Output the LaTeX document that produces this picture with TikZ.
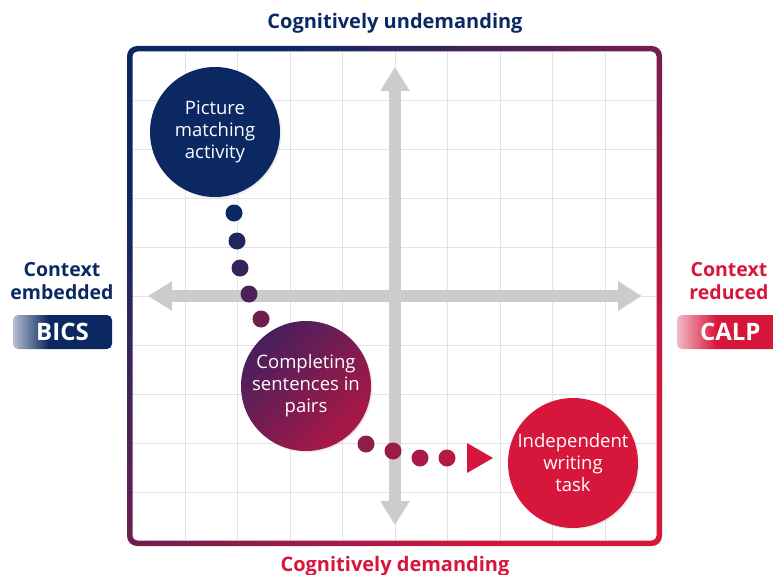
\documentclass[tikz,border=0pt]{standalone}
\usepackage{fontspec}
\setmainfont{Open Sans}
\usetikzlibrary{arrows.meta,shadows}

\definecolor{navyc}{RGB}{11,40,98}
\definecolor{crimc}{RGB}{215,22,60}
\definecolor{purpc}{RGB}{72,31,94}
\definecolor{winec}{RGB}{172,24,68}
\definecolor{gridc}{RGB}{226,226,226}
\definecolor{axisc}{RGB}{204,204,204}

\pgfdeclarehorizontalshading{bicsshade}{100bp}{color(0bp)=(navyc!30); color(25bp)=(navyc!30); color(43bp)=(navyc); color(100bp)=(navyc)}
\pgfdeclarehorizontalshading{calpshade}{100bp}{color(0bp)=(crimc!30); color(25bp)=(crimc!30); color(43bp)=(crimc); color(100bp)=(crimc)}

\tikzset{
  gridline/.style={gridc, line width=0.9pt},
  axisline/.style={axisc, line width=12pt, {Triangle[width=28pt,length=24pt]}-{Triangle[width=28pt,length=24pt]}},
  stage/.style={circle, minimum size=130pt, inner sep=0pt, text=white, align=center,
    font=\fontsize{18.5}{22}\selectfont, drop shadow={opacity=0.15, shadow xshift=1.5pt, shadow yshift=-1.5pt}},
  headlabel/.style={font=\fontsize{20}{22}\selectfont\bfseries},
  sidelabel/.style={align=center, font=\fontsize{19.5}{23}\selectfont\bfseries},
  tag/.style={rounded corners=5pt, minimum height=34pt, text=white, font=\fontsize{24}{26}\selectfont\bfseries}
}

\begin{document}
\begin{tikzpicture}[x=1pt,y=-1pt]
            \useasboundingbox (0,0) rectangle (773,575);
            \clip (0,0) rectangle (773,575);
            % frame
            \shade[top color=navyc, bottom color=crimc, shading angle=45, rounded corners=10pt] (127,46) rectangle (662,546);
            \fill[white, rounded corners=5pt] (132.5,51.5) rectangle (656.5,540.5);
            \foreach \k in {1,...,9} {
              \draw[gridline] ({132.5+52.5*\k},52) -- ({132.5+52.5*\k},540);
              \draw[gridline] (133,{51+49*\k}) -- (656,{51+49*\k});
            }
            % axes
            \draw[axisline] (148,296) -- (642,296);
            \draw[axisline] (395,67) -- (395,525);
            % dots
            \foreach \px/\py/\pc in {234/213/100, 237/241/90, 240/268/80, 249/294/68, 261/319/52, 366/444/36, 393/451/30, 420/458/24, 447/458/17}
              \fill[navyc!\pc!crimc] (\px,\py) circle (8.5);
            \fill[crimc] (467,443) -- (493,458) -- (467,473) -- cycle;
            % stages
            \node[stage, fill=navyc] (picture) at (215,132) {Picture\\matching\\activity};
            \node[stage, top color=purpc, bottom color=winec, shading angle=45] (sentences) at (306,386) {Completing\\sentences in\\pairs};
            \node[stage, fill=crimc] (writing) at (573,463) {Independent\\writing\\task};
            % labels
            \node[headlabel, text=navyc] (undemanding) at (395,23) {Cognitively undemanding};
            \node[headlabel, text=crimc] (demanding) at (395,566) {Cognitively demanding};
            \node[sidelabel, text=navyc] (embedded) at (62,281) {Context\\embedded};
            \node[sidelabel, text=crimc] (reduced) at (729,281) {Context\\reduced};
            \node[tag, minimum width=99pt, shading=bicsshade] (bics) at (62.5,332) {BICS};
            \node[tag, minimum width=110pt, shading=calpshade, text width=96pt, align=left] (calp) at (732,332) {\hspace{16pt}CALP};
        \end{tikzpicture}
\end{document}
